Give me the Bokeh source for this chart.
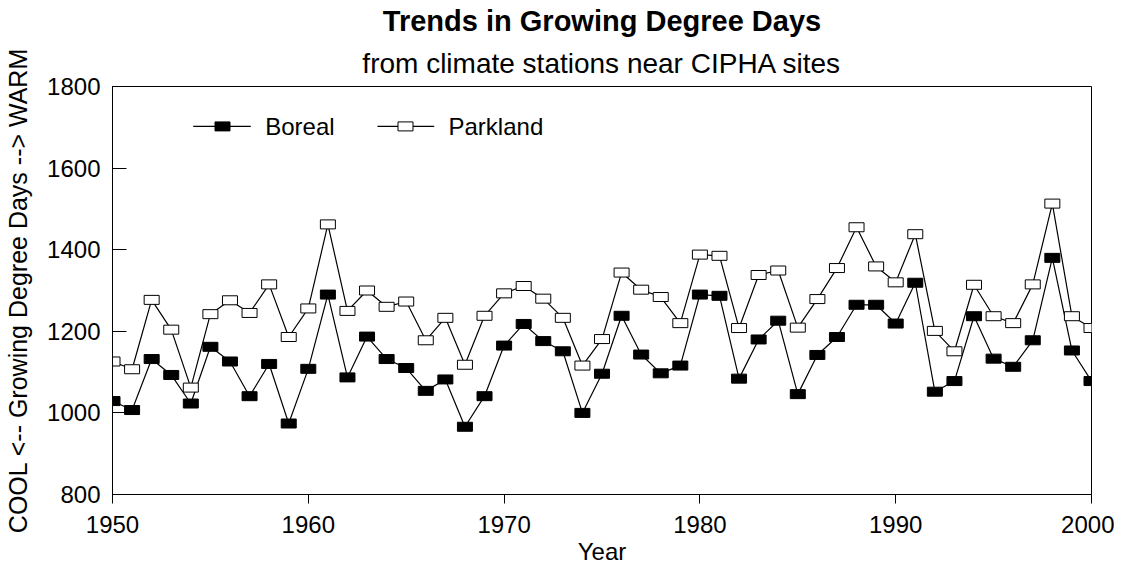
from bokeh.plotting import figure
from bokeh.models import Range1d, FixedTicker, Title, BoxAnnotation, Label
from bokeh.embed import file_html
from bokeh.resources import INLINE

# ---- data ----
years = list(range(1950, 2001))
boreal = [1029, 1007, 1132, 1093, 1023, 1162, 1126, 1041, 1120, 974,
          1108, 1290, 1087, 1187, 1132, 1110, 1054, 1082, 966, 1041,
          1165, 1218, 1176, 1151, 1000, 1096, 1238, 1143, 1097, 1116,
          1290, 1287, 1084, 1180, 1226, 1046, 1142, 1186, 1265, 1265,
          1219, 1319, 1052, 1078, 1237, 1133, 1113, 1178, 1380, 1153,
          1078]
parkland = [1126, 1107, 1277, 1204, 1062, 1242, 1276, 1245, 1315, 1186,
            1256, 1462, 1250, 1300, 1260, 1273, 1178, 1233, 1118, 1238,
            1293, 1311, 1280, 1233, 1116, 1181, 1344, 1302, 1284, 1220,
            1388, 1385, 1208, 1338, 1349, 1209, 1279, 1355, 1455, 1359,
            1320, 1438, 1201, 1151, 1314, 1237, 1220, 1315, 1513, 1237,
            1208]
series_names = ["Boreal", "Parkland"]
x_ticks = [1950, 1960, 1970, 1980, 1990, 2000]
y_ticks = [800, 1000, 1200, 1400, 1600, 1800]
title_text = "Trends in Growing Degree Days"
subtitle_text = "from climate stations near CIPHA sites"
x_label = "Year"
y_label = "COOL <-- Growing Degree Days --> WARM"

FONT = "Liberation Sans"
X0, X1 = 1950, 2000
Y0, Y1 = 800, 1800

p = figure(width=1114, height=571,
           x_range=Range1d(X0, X1), y_range=Range1d(Y0, Y1),
           output_backend="svg", toolbar_location=None,
           min_border_left=112, min_border_right=23,
           min_border_top=86, min_border_bottom=77)
p.grid.visible = False
p.outline_line_color = "black"
p.outline_line_width = 1
p.background_fill_color = "white"
p.border_fill_color = "white"

# axes
xa = p.xaxis[0]
xa.ticker = FixedTicker(ticks=x_ticks, minor_ticks=[])
xa.major_tick_in = 0
xa.major_tick_out = 9
xa.minor_tick_in = 0
xa.minor_tick_out = 0
xa.axis_line_color = "black"
xa.major_tick_line_color = "black"
xa.major_label_text_font = FONT
xa.major_label_text_font_size = "24px"
xa.major_label_text_color = "black"
xa.major_label_standoff = 12
xa.axis_label = x_label
xa.axis_label_text_font = FONT
xa.axis_label_text_font_size = "24px"
xa.axis_label_text_font_style = "normal"
xa.axis_label_text_color = "black"
xa.axis_label_standoff = 2

ya = p.yaxis[0]
ya.ticker = FixedTicker(ticks=y_ticks, minor_ticks=[])
ya.major_tick_in = 14
ya.major_tick_out = 0
ya.minor_tick_in = 0
ya.minor_tick_out = 0
ya.axis_line_color = "black"
ya.major_tick_line_color = "black"
ya.major_label_text_font = FONT
ya.major_label_text_font_size = "24px"
ya.major_label_text_color = "black"
ya.major_label_standoff = 12
ya.axis_label = y_label
ya.axis_label_text_font = FONT
ya.axis_label_text_font_size = "25px"
ya.axis_label_text_font_style = "normal"
ya.axis_label_text_color = "black"
ya.axis_label_standoff = 12

# titles (first added sits closest to the frame)
p.add_layout(Title(text=subtitle_text, align="center", text_font=FONT,
                   text_font_size="28px", text_font_style="normal",
                   text_color="black", standoff=16), "above")
p.add_layout(Title(text=title_text, align="center", text_font=FONT,
                   text_font_size="29px", text_font_style="bold",
                   text_color="black", standoff=2), "above")

# data series
p.line(years, parkland, line_color="black", line_width=1.2)
p.line(years, boreal, line_color="black", line_width=1.2)
p.rect(years, parkland, width=15, height=9, width_units="screen",
       height_units="screen", fill_color="white", line_color="black",
       line_width=1)
p.rect(years, boreal, width=15, height=9, width_units="screen",
       height_units="screen", fill_color="black", line_color="black",
       line_width=1)

# ---- legend (annotations; positions are layout, from pixels) ----
FRAME_L, FRAME_R, FRAME_T, FRAME_B = 120, 1099, 94, 503


def fx(px):
    return X0 + (px - FRAME_L) * (X1 - X0) / (FRAME_R - FRAME_L)


def fy(py):
    return Y1 - (py - FRAME_T) * (Y1 - Y0) / (FRAME_B - FRAME_T)


legend_specs = [
    (series_names[0], 200.7, 258.3, 230.0, 272.7, "black"),
    (series_names[1], 385.0, 441.7, 413.0, 456.0, "white"),
]
LEG_Y = 134
for name, l0, l1, mc, tx, fill in legend_specs:
    p.add_layout(BoxAnnotation(left=fx(l0), right=fx(l1),
                               top=fy(LEG_Y - 0.6), bottom=fy(LEG_Y + 0.6),
                               fill_color="black", fill_alpha=1.0,
                               line_alpha=0.0))
    p.add_layout(BoxAnnotation(left=fx(mc - 7.5), right=fx(mc + 7.5),
                               top=fy(LEG_Y - 4.5), bottom=fy(LEG_Y + 4.5),
                               fill_color=fill, fill_alpha=1.0,
                               line_color="black", line_alpha=1.0,
                               line_width=1))
    p.add_layout(Label(x=fx(tx), y=fy(LEG_Y), text=name,
                       text_font=FONT, text_font_size="24px",
                       text_baseline="middle", text_align="left",
                       text_color="black"))

open("out.html", "w").write(file_html(p, INLINE))
